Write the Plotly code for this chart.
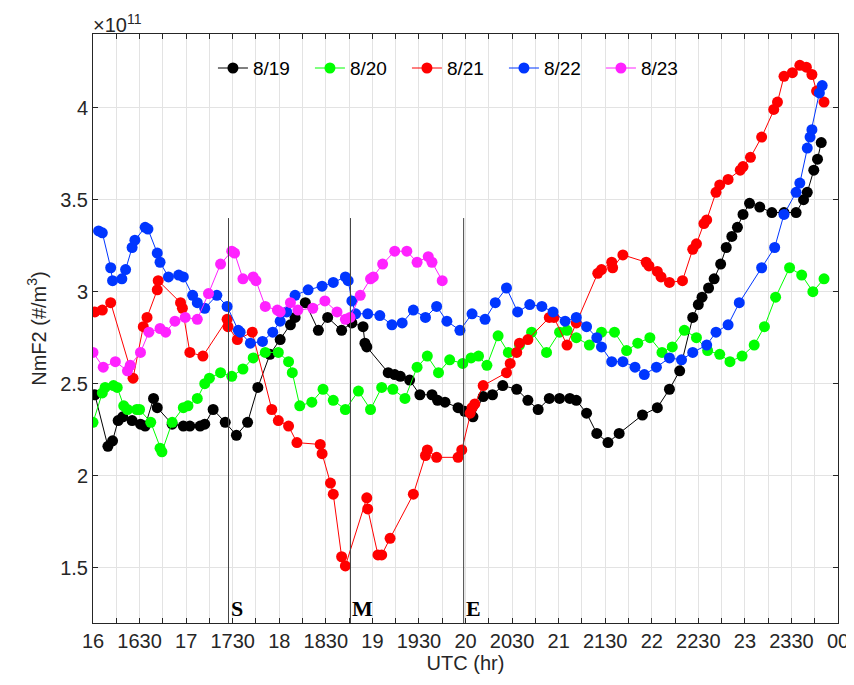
import plotly.graph_objects as go

# UTC time (decimal hours) and NmF2 values (units of 1e11 #/m^3)
t_0819 = [16.02,16.16,16.21,16.27,16.32,16.42,16.51,16.56,16.65,16.69,16.85,16.97,17.04,17.15,17.20,17.29,17.42,17.54,17.66,17.77,17.90,18.01,18.12,18.17,18.28,18.42,18.52,18.67,18.78,18.90,18.92,18.94,19.17,19.24,19.30,19.40,19.51,19.64,19.70,19.78,19.92,19.99,20.08,20.19,20.29,20.40,20.55,20.67,20.78,20.90,21.01,21.12,21.19,21.30,21.41,21.53,21.65,21.90,22.06,22.19,22.30,22.44,22.50,22.54,22.61,22.67,22.74,22.80,22.86,22.92,22.98,23.05,23.16,23.29,23.42,23.55,23.63,23.67,23.74,23.78,23.82]
v_0819 = [2.44,2.16,2.19,2.30,2.32,2.30,2.28,2.27,2.42,2.37,2.28,2.27,2.27,2.27,2.28,2.36,2.29,2.22,2.29,2.48,2.66,2.74,2.82,2.86,2.94,2.79,2.86,2.79,2.83,2.81,2.72,2.70,2.56,2.55,2.54,2.52,2.44,2.44,2.41,2.40,2.37,2.35,2.32,2.43,2.44,2.49,2.47,2.41,2.36,2.42,2.42,2.42,2.41,2.34,2.23,2.18,2.23,2.33,2.37,2.47,2.57,2.86,2.93,2.97,3.02,3.07,3.15,3.24,3.30,3.35,3.42,3.48,3.46,3.43,3.43,3.43,3.50,3.54,3.66,3.72,3.81]

t_0820 = [16.00,16.10,16.13,16.22,16.26,16.33,16.37,16.47,16.50,16.62,16.72,16.74,16.85,16.97,17.02,17.12,17.20,17.25,17.37,17.49,17.61,17.72,17.85,17.99,18.10,18.14,18.22,18.35,18.47,18.58,18.71,18.85,18.98,19.10,19.22,19.35,19.48,19.59,19.71,19.83,19.97,20.06,20.14,20.23,20.35,20.46,20.58,20.71,20.87,21.01,21.09,21.19,21.33,21.46,21.60,21.73,21.85,21.98,22.11,22.22,22.35,22.48,22.60,22.73,22.84,22.97,23.10,23.21,23.33,23.48,23.61,23.73,23.85]
v_0820 = [2.29,2.45,2.48,2.49,2.48,2.38,2.36,2.36,2.36,2.29,2.15,2.13,2.29,2.37,2.38,2.42,2.50,2.53,2.56,2.54,2.58,2.64,2.67,2.67,2.62,2.56,2.38,2.40,2.47,2.41,2.36,2.46,2.36,2.48,2.47,2.42,2.59,2.65,2.56,2.63,2.61,2.64,2.65,2.60,2.76,2.67,2.71,2.78,2.67,2.78,2.79,2.75,2.71,2.78,2.78,2.68,2.72,2.75,2.67,2.70,2.79,2.75,2.68,2.66,2.62,2.65,2.71,2.81,2.97,3.13,3.09,3.00,3.07]

t_0821 = [16.02,16.10,16.19,16.43,16.54,16.58,16.69,16.70,16.94,16.96,17.04,17.18,17.44,17.45,17.55,17.71,17.92,17.99,18.10,18.19,18.44,18.46,18.55,18.58,18.67,18.71,18.94,18.95,19.06,19.10,19.19,19.44,19.57,19.59,19.69,19.92,19.96,20.05,20.07,20.10,20.19,20.44,20.48,20.55,20.58,20.67,20.90,20.95,21.09,21.19,21.42,21.46,21.57,21.58,21.69,21.94,21.97,22.06,22.10,22.19,22.33,22.44,22.48,22.56,22.59,22.69,22.73,22.82,22.95,22.98,23.06,23.18,23.31,23.35,23.42,23.51,23.59,23.66,23.72,23.77,23.85]
v_0821 = [2.89,2.90,2.94,2.53,2.81,2.86,3.01,3.06,2.94,2.91,2.67,2.65,2.85,2.81,2.74,2.78,2.36,2.30,2.27,2.18,2.17,2.12,1.96,1.90,1.56,1.51,1.88,1.82,1.57,1.57,1.66,1.90,2.11,2.14,2.10,2.10,2.14,2.34,2.37,2.39,2.49,2.56,2.61,2.67,2.72,2.74,2.86,2.86,2.71,2.83,3.10,3.12,3.16,3.13,3.20,3.16,3.14,3.11,3.08,3.05,3.06,3.23,3.26,3.37,3.39,3.54,3.58,3.61,3.66,3.68,3.73,3.84,3.99,4.03,4.17,4.19,4.23,4.22,4.18,4.09,4.03]

t_0822 = [16.06,16.10,16.19,16.21,16.31,16.35,16.42,16.45,16.56,16.59,16.69,16.72,16.81,16.92,16.97,17.07,17.12,17.20,17.33,17.44,17.56,17.58,17.69,17.82,17.93,18.01,18.08,18.17,18.31,18.46,18.58,18.71,18.74,18.78,18.82,18.95,19.08,19.21,19.32,19.44,19.57,19.69,19.80,19.94,20.07,20.21,20.32,20.44,20.56,20.69,20.82,20.94,21.07,21.19,21.30,21.41,21.46,21.57,21.69,21.82,21.92,22.05,22.19,22.32,22.44,22.59,22.69,22.82,22.94,23.18,23.32,23.42,23.55,23.59,23.67,23.70,23.72,23.80,23.83]
v_0822 = [3.33,3.32,3.13,3.06,3.07,3.12,3.24,3.28,3.35,3.34,3.21,3.16,3.08,3.09,3.08,2.98,2.94,2.91,2.98,2.92,2.79,2.78,2.72,2.73,2.78,2.84,2.89,2.98,3.01,3.03,3.05,3.08,3.06,2.95,2.88,2.88,2.87,2.82,2.83,2.90,2.86,2.92,2.84,2.79,2.88,2.85,2.94,3.02,2.89,2.93,2.92,2.89,2.84,2.86,2.81,2.75,2.70,2.62,2.62,2.59,2.55,2.59,2.64,2.63,2.67,2.71,2.78,2.82,2.94,3.13,3.24,3.42,3.54,3.59,3.78,3.84,3.88,4.08,4.12]

t_0823 = [16.00,16.11,16.24,16.37,16.40,16.51,16.60,16.72,16.78,16.88,16.99,17.12,17.24,17.37,17.49,17.52,17.61,17.72,17.75,17.85,17.98,18.01,18.12,18.20,18.36,18.49,18.62,18.71,18.76,18.87,18.98,19.01,19.11,19.24,19.37,19.48,19.60,19.64,19.75]
v_0823 = [2.67,2.59,2.62,2.57,2.60,2.67,2.78,2.80,2.78,2.84,2.86,2.85,2.99,3.15,3.22,3.21,3.07,3.08,3.06,2.92,2.90,2.89,2.94,2.90,2.91,2.95,2.89,2.85,2.86,2.98,3.07,3.08,3.15,3.22,3.22,3.16,3.19,3.16,3.06]

series_names = ["8/19", "8/20", "8/21", "8/22", "8/23"]
series_colors = ["#000000", "#00ff00", "#ff0000", "#0036ff", "#ff22ff"]
series_t = [t_0819, t_0820, t_0821, t_0822, t_0823]
series_v = [v_0819, v_0820, v_0821, v_0822, v_0823]

# eclipse start / maximum / end (UTC hours)
event_labels = ["S", "M", "E"]
event_times = [17.455, 18.765, 19.98]
event_top = 3.4

x_tick_vals = [16 + 0.25 * i for i in range(33)]
x_tick_labels = ["16", "1630", "17", "1730", "18", "1830", "19", "1930", "20",
                 "2030", "21", "2130", "22", "2230", "23", "2330", "00"]
y_tick_vals = [1.5, 2, 2.5, 3, 3.5, 4]
y_tick_labels = ["1.5", "2", "2.5", "3", "3.5", "4"]

FONT = "Liberation Sans, Arial, Helvetica, sans-serif"
TXT = "#262626"

fig = go.Figure()
for name, col, t, v in zip(series_names, series_colors, series_t, series_v):
    fig.add_trace(go.Scatter(
        x=t, y=v, mode="lines+markers", name=name,
        line=dict(color=col, width=1),
        marker=dict(color=col, size=11, line=dict(width=0)),
    ))

for lab, et in zip(event_labels, event_times):
    fig.add_shape(type="line", xref="x", yref="y", x0=et, x1=et, y0=1.2, y1=event_top,
                  line=dict(color="#444444", width=1))
    fig.add_annotation(x=et, y=1.2, xref="x", yref="y", text="<b>%s</b>" % lab,
                       showarrow=False, xanchor="left", yanchor="bottom",
                       xshift=0, yshift=0,
                       font=dict(family="Liberation Serif, Times New Roman, serif", size=22, color="#000000"))

fig.add_annotation(x=0, y=1, xref="paper", yref="paper",
                   text="×10<sup>11</sup>",
                   showarrow=False, xanchor="left", yanchor="bottom", yshift=-4, xshift=-2,
                   font=dict(family=FONT, size=20, color=TXT))

tick_text = []
for i, v in enumerate(x_tick_vals):
    tick_text.append(x_tick_labels[i // 2] if i % 2 == 0 else " ")

axis_common = dict(showline=True, linecolor=TXT, linewidth=1, mirror="ticks",
                   ticks="inside", ticklen=5, tickcolor=TXT,
                   showgrid=True, gridcolor="#e3e3e3", gridwidth=1,
                   zeroline=False, tickfont=dict(family=FONT, size=20, color=TXT))

fig.update_xaxes(range=[16, 24], tickmode="array", tickvals=x_tick_vals, ticktext=tick_text,
                 tickangle=0, automargin=False,
                 title=dict(text="UTC (hr)", font=dict(family=FONT, size=20, color=TXT), standoff=2),
                 **axis_common)
fig.update_yaxes(range=[1.2, 4.4], tickmode="array", tickvals=y_tick_vals, ticktext=y_tick_labels,
                 automargin=False,
                 title=dict(text="NmF2 (#/m<sup>3</sup>)", font=dict(family=FONT, size=20, color=TXT), standoff=8),
                 **axis_common)

# page body has an 8px margin: figure sized/margined so the plot box lands where the reference has it
fig.update_layout(
    width=846, height=677,
    margin=dict(l=85, r=16, t=26, b=62),
    paper_bgcolor="white", plot_bgcolor="white",
    showlegend=True,
    legend=dict(orientation="h", x=0.161, xanchor="left", y=0.942, yanchor="middle",
                bgcolor="rgba(0,0,0,0)", font=dict(family=FONT, size=19, color="#000000"),
                entrywidth=52, entrywidthmode="pixels", itemwidth=30),
)

fig.write_html("out.html")
